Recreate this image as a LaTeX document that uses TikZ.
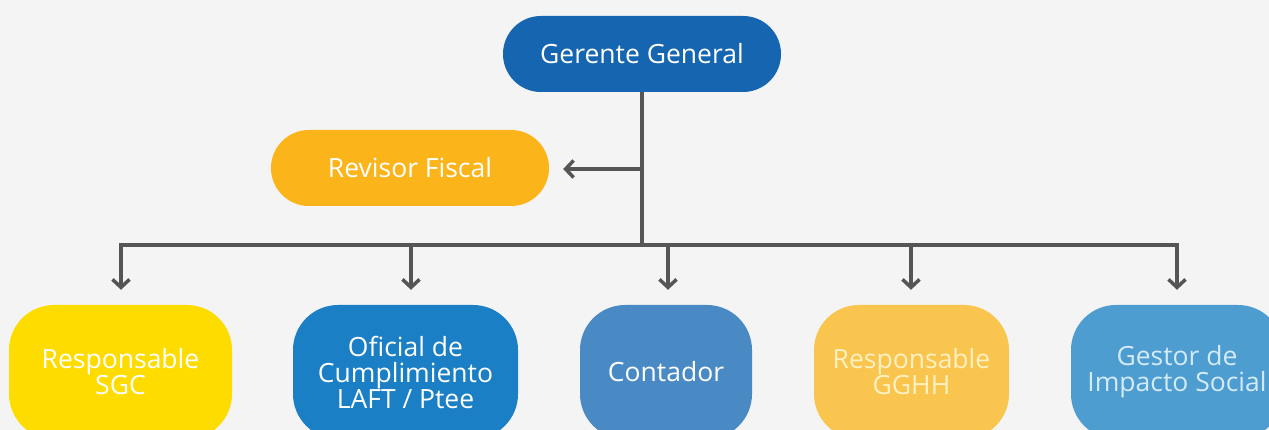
\documentclass[tikz,border=0pt]{standalone}
\usepackage{fontspec}
\setmainfont{Open Sans}
\usetikzlibrary{arrows.meta}
\definecolor{bg}{HTML}{F4F4F4}
\definecolor{lineg}{HTML}{555555}
\definecolor{cGer}{HTML}{1565B0}
\definecolor{cRev}{HTML}{FBB41A}
\definecolor{cSgc}{HTML}{FFDC00}
\definecolor{cOfi}{HTML}{1A7FC4}
\definecolor{cCon}{HTML}{4A8AC4}
\definecolor{cGgh}{HTML}{F9C54F}
\definecolor{tGgh}{HTML}{FFF1C2}
\definecolor{cGes}{HTML}{4D9DD1}
\definecolor{tGes}{HTML}{D4EAF7}
\tikzset{
  pill/.style={rectangle, rounded corners=37.9pt, minimum width=278pt, minimum height=76pt,
    inner sep=0pt, text=white, font=\fontsize{26.5}{26}\selectfont, align=center},
  bottombox/.style={rectangle, rounded corners=45pt, minimum height=134pt,
    inner sep=0pt, text=white, font=\fontsize{26.5}{26}\selectfont, align=center},
  conn/.style={draw=lineg, line width=3.5pt},
  arr/.style={conn, -{Straight Barb[length=8pt,width=17pt,line width=3.5pt]}}
}
\begin{document}
\begin{tikzpicture}[x=1pt,y=-1pt]
\useasboundingbox (0,0) rectangle (1269,430);
\clip (0,0) rectangle (1269,430);
\fill[bg] (0,0) rectangle (1269,430);

\node[pill, fill=cGer] (ger) at (642,54) {Gerente General};
\node[pill, fill=cRev] (rev) at (410,168) {Revisor Fiscal};

\node[bottombox, fill=cSgc, minimum width=223pt] (sgc) at (120.5,372) {Responsable\\SGC};
\node[bottombox, fill=cOfi, minimum width=225pt] (ofi) at (405.5,372) {Oficial de\\Cumplimiento\\LAFT / Ptee};
\node[bottombox, fill=cCon, minimum width=172pt] (con) at (666,372) {Contador};
\node[bottombox, fill=cGgh, minimum width=195pt, text=tGgh] (ggh) at (911.5,372) {Responsable\\GGHH};
\node[bottombox, fill=cGes, minimum width=212pt, text=tGes] (ges) at (1177,372) {Gestor de\\Impacto Social};

\coordinate (j) at (642,245);
\coordinate (r) at (642,169);
\coordinate (b1) at (121,245);
\coordinate (b2) at (411,245);
\coordinate (b3) at (668,245);
\coordinate (b4) at (911,245);
\coordinate (b5) at (1177,245);

\draw[conn] (ger.south) -- (j);
\draw[arr, shorten >=14pt] (r) -- (rev.east |- r);
\draw[conn, line cap=rect] (b1) -- (b5);
\draw[arr, shorten >=15pt] (b1) -- (b1 |- sgc.north);
\draw[arr, shorten >=15pt] (b2) -- (b2 |- ofi.north);
\draw[arr, shorten >=15pt] (b3) -- (b3 |- con.north);
\draw[arr, shorten >=15pt] (b4) -- (b4 |- ggh.north);
\draw[arr, shorten >=15pt] (b5) -- (b5 |- ges.north);
\end{tikzpicture}
\end{document}
